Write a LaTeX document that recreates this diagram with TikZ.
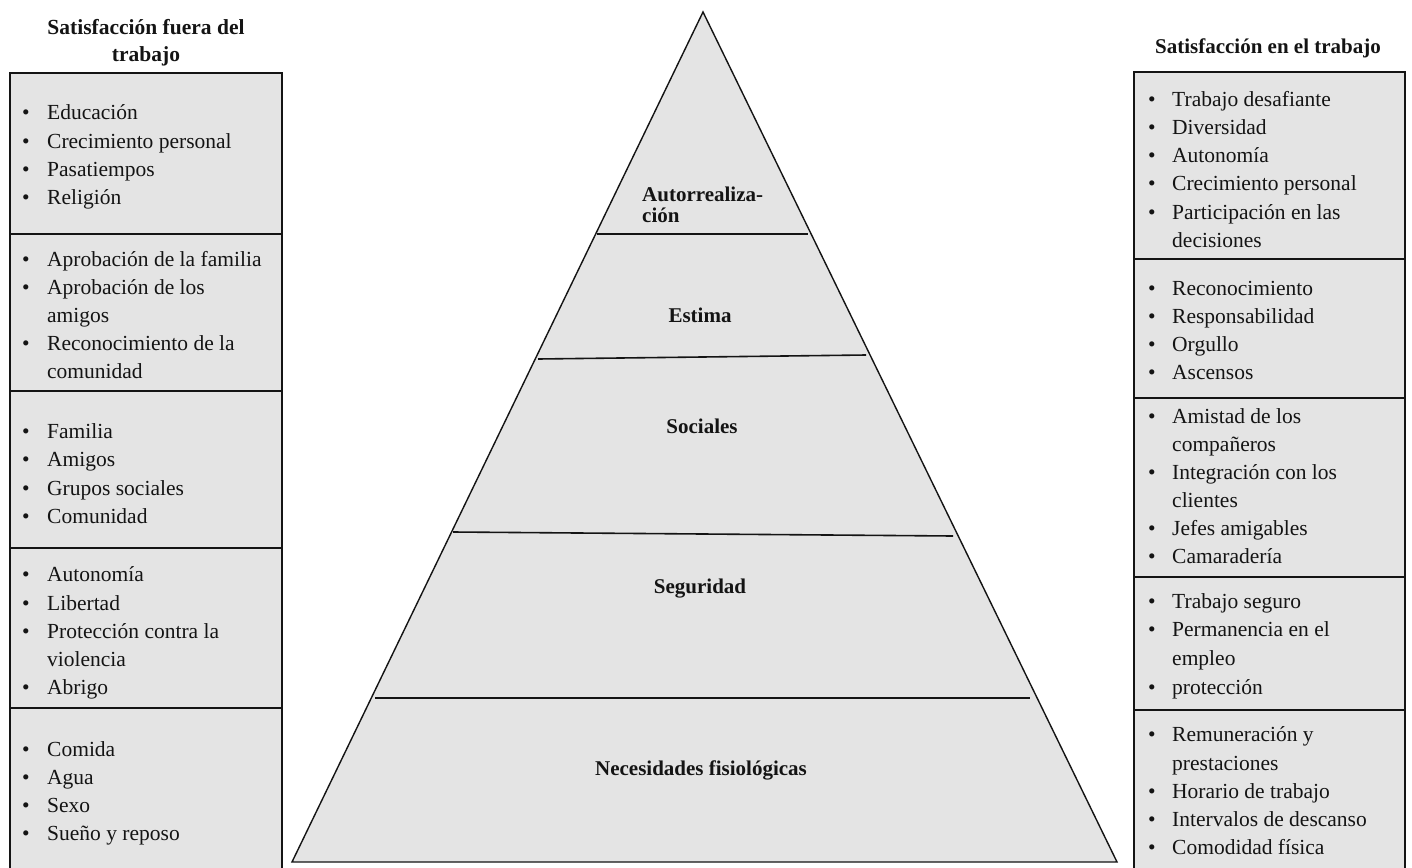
\documentclass[tikz,border=0pt]{standalone}
\usepackage{fontspec}
\setmainfont{Liberation Serif}
\definecolor{fillg}{RGB}{228,228,228}
\definecolor{ink}{RGB}{20,20,20}
\begin{document}
\begin{tikzpicture}[x=1pt,y=-1pt,
  boxline/.style={draw=ink,line width=1.8pt,fill=fillg},
  divline/.style={draw=ink,line width=1.8pt},
  pyr/.style={draw=ink,line width=1.4pt,fill=fillg,line join=miter},
  pdiv/.style={draw=ink,line width=1.6pt},
  itm/.style={anchor=base west,inner sep=0pt,text=ink,font=\fontsize{21.5}{28}\selectfont},
  lab/.style={anchor=base,inner sep=0pt,text=ink,font=\bfseries\fontsize{21}{22}\selectfont},
  labl/.style={anchor=base west,inner sep=0pt,text=ink,font=\bfseries\fontsize{21}{22}\selectfont}]
\useasboundingbox (0,0) rectangle (1412,867);
\fill[white] (0,0) rectangle (1412,867);

% left column boxes
\draw[boxline] (10,73) rectangle (282,872);
\foreach \yy in {234,391,548,708} \draw[divline] (10,\yy) -- (282,\yy);
% right column boxes
\draw[boxline] (1134,72) rectangle (1405,872);
\foreach \yy in {259,398,577,710} \draw[divline] (1134,\yy) -- (1405,\yy);

% pyramid
\coordinate (apex) at (703,12);
\coordinate (bl) at (292,862);
\coordinate (br) at (1117,862);
\draw[pyr] (apex) -- (br) -- (bl) -- cycle;
\coordinate (d1a) at (597,234); \coordinate (d1b) at (808,234);
\coordinate (d2a) at (538,359); \coordinate (d2b) at (866,355);
\coordinate (d3a) at (453,532); \coordinate (d3b) at (953,536);
\coordinate (d4a) at (375,698); \coordinate (d4b) at (1030,698);
\draw[pdiv] (d1a) -- (d1b);
\draw[pdiv] (d2a) -- (d2b);
\draw[pdiv] (d3a) -- (d3b);
\draw[pdiv] (d4a) -- (d4b);

% pyramid labels
\node[labl] (autoA) at (642,201) {Autorrealiza-};
\node[labl] (autoB) at (642,222) {ción};
\node[lab] (estima) at (700,322) {Estima};
\node[lab] (sociales) at (702,433) {Sociales};
\node[lab] (segur) at (700,593) {Seguridad};
\node[lab] (fisio) at (701,775) {Necesidades fisiológicas};

% titles
\node[lab,font=\bfseries\fontsize{21.5}{22}\selectfont] (tl1) at (146,35) {Satisfacción fuera del};
\node[lab,font=\bfseries\fontsize{21.5}{22}\selectfont] (tl2) at (146,61) {trabajo};
\node[lab,font=\bfseries\fontsize{21}{22}\selectfont] (tr) at (1268,53) {Satisfacción en el trabajo};

% left items
\foreach \yy/\tx/\bl [count=\i] in {111/Educación/1, 140/Crecimiento personal/1, 168/Pasatiempos/1, 196/Religión/1,
  258/Aprobación de la familia/1, 286/Aprobación de los/1, 314/amigos/0, 342/Reconocimiento de la/1, 370/comunidad/0,
  430/Familia/1, 458/Amigos/1, 487/Grupos sociales/1, 515/Comunidad/1,
  573/Autonomía/1, 602/Libertad/1, 630/Protección contra la/1, 658/violencia/0, 686/Abrigo/1,
  748/Comida/1, 776/Agua/1, 804/Sexo/1, 832/Sueño y reposo/1}{
  \node[itm] (L\i) at (47,\yy+8) {\tx};
  \ifnum\bl=1 \node[itm] (LB\i) at (22,\yy+8) {•};\fi
}

% right items
\foreach \yy/\tx/\bl [count=\i] in {98/Trabajo desafiante/1, 126/Diversidad/1, 154/Autonomía/1, 182/Crecimiento personal/1,
  211/Participación en las/1, 239/decisiones/0,
  287/Reconocimiento/1, 315/Responsabilidad/1, 343/Orgullo/1, 371/Ascensos/1,
  415/Amistad de los/1, 443/compañeros/0, 471/Integración con los/1, 499/clientes/0, 527/Jefes amigables/1, 555/Camaradería/1,
  600/Trabajo seguro/1, 628/Permanencia en el/1, 657/empleo/0, 686/protección/1,
  733/Remuneración y/1, 762/prestaciones/0, 790/Horario de trabajo/1, 818/Intervalos de descanso/1, 846/Comodidad física/1}{
  \node[itm] (R\i) at (1172,\yy+8) {\tx};
  \ifnum\bl=1 \node[itm] (RB\i) at (1148,\yy+8) {•};\fi
}
\end{tikzpicture}
\end{document}
